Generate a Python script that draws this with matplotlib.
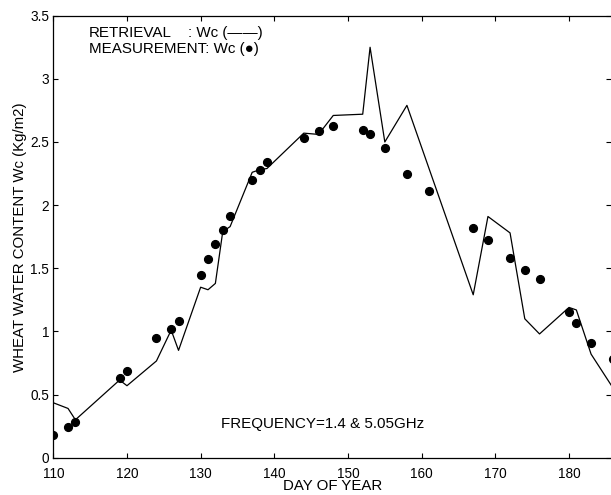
import matplotlib
matplotlib.use("Agg")
import matplotlib.pyplot as plt
from matplotlib.ticker import FormatStrFormatter

plt.rcParams['font.family'] = ['Liberation Sans', 'DejaVu Sans']

# Retrieved wheat water content (line)
ret_day = [110, 112, 113, 119, 120, 124, 126, 127, 130, 131, 132, 133, 134,
           137, 138, 139, 144, 146, 148, 152, 153, 155, 158, 167, 169, 172,
           174, 176, 180, 181, 183, 186]
ret_wc = [0.435, 0.39, 0.30, 0.615, 0.57, 0.766, 1.01, 0.85, 1.35, 1.33, 1.38,
          1.79, 1.83, 2.26, 2.28, 2.29, 2.57, 2.56, 2.71, 2.72, 3.25, 2.50,
          2.79, 1.29, 1.91, 1.78, 1.10, 0.98, 1.19, 1.17, 0.82, 0.55]

# Measured wheat water content (dots)
meas_day = [110, 112, 113, 119, 120, 124, 126, 127, 130, 131, 132, 133, 134,
            137, 138, 139, 144, 146, 148, 152, 153, 155, 158, 161, 167, 169,
            172, 174, 176, 180, 181, 183, 186]
meas_wc = [0.18, 0.24, 0.28, 0.63, 0.69, 0.95, 1.02, 1.08, 1.45, 1.57, 1.69,
           1.80, 1.91, 2.20, 2.28, 2.34, 2.53, 2.59, 2.63, 2.595, 2.56, 2.45,
           2.25, 2.11, 1.815, 1.72, 1.58, 1.49, 1.415, 1.156, 1.07, 0.906, 0.78]

x_ticks = [110, 120, 130, 140, 150, 160, 170, 180]
y_ticks = [0, 0.5, 1, 1.5, 2, 2.5, 3, 3.5]

W, H = 611, 495
fig = plt.figure(figsize=(W / 100, H / 100), dpi=100)
left, right, bottom, top = 53.3, 611.0, 457.7, 15.7
ax = fig.add_axes([left / W, (H - bottom) / H, (right - left) / W, (bottom - top) / H])

ax.plot(ret_day, ret_wc, color='black', lw=0.9)
ax.plot(meas_day, meas_wc, 'o', color='black', ms=5.6, mec='black', ls='none')

x_right = 110 + (right - left) / 7.367
ax.set_xlim(110, x_right)
ax.set_ylim(0, 3.5)
ax.set_xticks(x_ticks)
ax.set_yticks(y_ticks)
ax.yaxis.set_major_formatter(FormatStrFormatter('%g'))
ax.tick_params(direction='in', length=3.5, width=0.8, labelsize=9.8,
               top=True, right=True, pad=3)
ax.tick_params(axis='x', pad=6.5)
ax.spines['right'].set_visible(False)
for s in ['left', 'bottom', 'top']:
    ax.spines[s].set_linewidth(0.9)

ax.set_xlabel('DAY OF YEAR', fontsize=10.8, labelpad=-1)
ax.set_ylabel('WHEAT WATER CONTENT Wc (Kg/m2)', fontsize=10.8, labelpad=2)

fs = 10.9
fig.text(89 / W, (H - 33) / H, 'RETRIEVAL', fontsize=fs, ha='left', va='center')
fig.text(188 / W, (H - 33) / H, ': Wc (——)', fontsize=fs, ha='left', va='center')
fig.text(89 / W, (H - 48.5) / H, 'MEASUREMENT: Wc (\u25cf)', fontsize=fs, ha='left', va='center')
ax.text(132.8, 0.265, 'FREQUENCY=1.4 & 5.05GHz', fontsize=10.9, ha='left', va='center')

fig.savefig('out.png', dpi=100)
